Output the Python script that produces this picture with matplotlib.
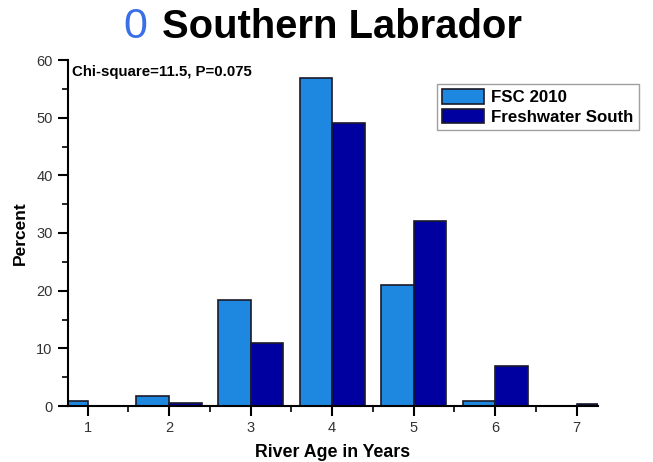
import matplotlib
matplotlib.use("Agg")
import matplotlib.pyplot as plt
from matplotlib.ticker import MultipleLocator
import numpy as np

plt.rcParams['font.family'] = ['Liberation Sans', 'DejaVu Sans']

ages = [1, 2, 3, 4, 5, 6, 7]
fsc_2010 = [0.9, 1.7, 18.4, 56.8, 21.0, 0.9, 0.0]
freshwater_south = [0.0, 0.5, 10.9, 49.0, 32.0, 7.0, 0.35]

fig = plt.figure(figsize=(6.53, 4.62), dpi=100)
ax = fig.add_axes([68/653, 56/462, 530/653, 346/462])

x = np.array(ages)
w = 0.4
ax.bar(x - w/2, fsc_2010, width=w, color='#1e88e0', edgecolor='#1a1a2a',
       linewidth=1.2, label='FSC 2010')
ax.bar(x + w/2, freshwater_south, width=w, color='#0000a0', edgecolor='#1a1a2a',
       linewidth=1.2, label='Freshwater South')

ax.set_xlim(0.76, 7.26)
ax.set_ylim(0, 60)
ax.spines['top'].set_visible(False)
ax.spines['right'].set_visible(False)
ax.spines['left'].set_linewidth(1.5)
ax.spines['bottom'].set_linewidth(1.5)

ax.xaxis.set_major_locator(MultipleLocator(1))
ax.xaxis.set_minor_locator(MultipleLocator(0.5))
ax.yaxis.set_major_locator(MultipleLocator(10))
ax.yaxis.set_minor_locator(MultipleLocator(5))
ax.tick_params(which='major', direction='out', length=7, width=1.5,
               labelsize=10.5, labelcolor='#333333', pad=4)
ax.tick_params(which='minor', direction='out', length=4, width=1.2)

ax.set_xlabel('River Age in Years', fontsize=12.8, fontweight='bold', labelpad=6)
ax.set_ylabel('Percent', fontsize=12.5, fontweight='bold', labelpad=6)

ax.text(0.007, 0.985, 'Chi-square=11.5, P=0.075', transform=ax.transAxes,
        fontsize=10.8, fontweight='bold', va='top', ha='left')

leg = ax.legend(loc='upper left', bbox_to_anchor=(437/653, 1 - 84/462),
                bbox_transform=fig.transFigure, frameon=True, borderaxespad=0,
                fancybox=False, handlelength=2.5, handleheight=0.95,
                handletextpad=0.4, borderpad=0.3, labelspacing=0.2,
                prop={'weight': 'bold', 'size': 12.2})
leg.get_frame().set_edgecolor('#888888')
leg.get_frame().set_linewidth(1.0)

fig.text(123/653, 1 - 27/462, '0', fontsize=31, fontweight='normal',
         color='#3a6fe8', va='center', ha='left')
fig.text(162/653, 1 - 27/462, 'Southern Labrador', fontsize=28.8,
         fontweight='bold', color='black', va='center', ha='left')

fig.savefig('out.png', dpi=100)
